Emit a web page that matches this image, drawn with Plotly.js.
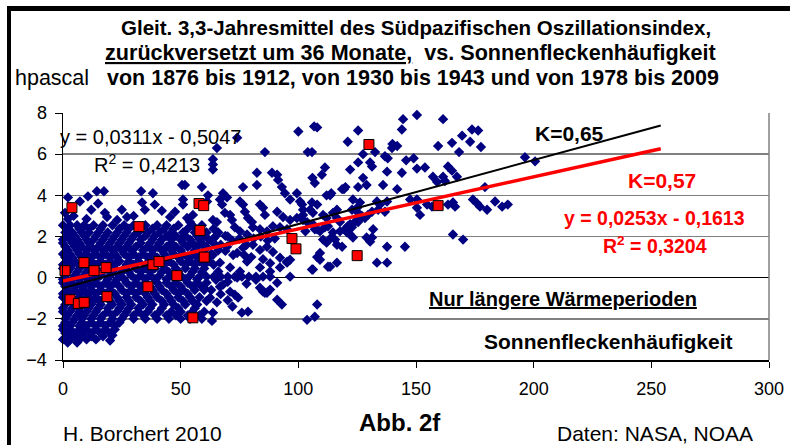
<!DOCTYPE html>
<html><head><meta charset="utf-8">
<script src="https://cdn.plot.ly/plotly-3.0.1.min.js"></script>
<style>html,body{margin:0;padding:0;background:#fff;overflow:hidden;width:790px;height:445px}
#wrap{position:relative;width:790px;height:445px;overflow:hidden}#c{position:absolute;left:0;top:0;width:790px;height:445px}
#ftop{position:absolute;left:7px;top:6px;width:783px;height:5px;background:#000;z-index:10}
#fleft{position:absolute;left:7px;top:6px;width:4px;height:439px;background:#000;z-index:10}</style>
</head><body><div id="wrap"><div id="c"></div><div id="ftop"></div><div id="fleft"></div></div>
<script>
// ---- data ----
// scattered blue points (sunspot number, SOI hPa)
const blueSparseX = [2.1,0.85,2.1,7.2,10.6,14.4,17.4,14.9,17.8,18.7,23,27.2,33.2,38.2,33.6,34.8,39,42,45.5,47.6,50.6,51,51,52.7,54,55.2,59,61.6,61.2,63.7,65.4,4.5,10,12,30,25,
74,65.4,85.8,63.7,63.7,63.7,104,51.8,76.5,82.4,82.4,88.8,91,91.4,93,94.3,96.5,99.4,100.7,68,69.7,66.7,67.6,75.2,76.5,83.7,85,85.8,68.8,71,71.8,77.3,78.6,80.3,91,93.5,96.5,99.4,102,73,75.2,78.2,80.7,83.7,86.7,89.2,92.2,95.2,
100,106.7,108,125.4,144.5,150.4,161.5,144,121,105.8,140,142,139.8,132.6,127.5,136.8,138,145.8,149,159.4,165.3,169.6,173.8,176.4,173,177.6,168.3,130.5,131.3,125.4,111.3,122,137.7,144,150.4,153.8,157.2,159,162.3,163.6,165.3,161.5,167.4,196.3,200.6,127.5,106,107,110,120,119.4,125.4,113.5,114,112,123.2,136,142,129,150.4,151.7,154.7,156.8,163.6,165.7,166.6,165.7,170,174.2,176,177.2,180.2,183.6,186.6,189,179.3,133.4,137.7,134.7,145.3,137.7,137.7,133.4,130.5,131.3,129,123.2,122,120.7,118.6,116.4,113.5,116.4,109.2,106.2,114,114.7,115.6,111.3,112.6,117.7,119.8,121,122,122.8,124,125,127,128.3,129.6,131.3,122.8,125,126.2,118.6,101.6,102,105,106.2,105.8,108,110.5,112,106.2,108,109.2,102,103.7,114.7,116.4,133.9,136.8,147.5,150.4,110.5,112,108,109.2,95.2,96.5,125.4,127,116.4,117.7,125.4,103,107,121,131.8,
62.5,65.4,63.7,63.3,76,78.6,71,73,74.4,83.7,85.8,88,66.7,68,85,86.7,91,96.5,91,93,103.7,107,108,105.8,112.6,58,61,64,67,70,73,76,79,82,85,88,
69.7,72.3,76.5,80.7,83.7,86.7,89.2,92.2,95.2,78.2,83.7,88,92.2,75.2,71,66.7,63.7,21,20,
64,67,70,72,75,78,81,84,87,90,66,69,74,77,80,85,88,65,70,74,78,82,67,70,72,60,63];
const blueSparseY = [3.9,3.15,2.85,3.7,3.95,4.2,4.2,3.6,3.15,2.95,2.8,2.95,4.2,4.1,3.65,3.3,3.55,3.25,2.95,3.2,4.5,3.8,3.55,2.9,2.7,3.05,4.4,4.0,3.7,2.8,2.7,3.0,2.85,3.3,3.0,3.3,
6.8,6.3,6.1,5.75,5.5,5.25,6.1,4.5,4.4,5.1,4.5,5.1,5.0,4.75,4.4,4.1,3.8,4.1,3.7,4.1,3.9,3.8,3.55,3.7,3.55,3.55,3.4,3.05,3.15,3.05,2.8,3.2,2.9,2.7,3.2,2.95,2.8,2.9,3.05,2.45,2.25,2.1,2.45,2.35,2.25,2.5,2.45,2.35,
7.1,7.35,7.3,7.15,7.7,7.9,7.7,7.2,6.6,6.1,6.5,6.4,6.3,6.1,6.0,5.9,5.8,5.7,5.8,6.4,6.55,6.9,7.2,7.15,6.6,6.35,6.1,5.6,5.4,5.6,5.35,5.25,5.15,5.1,5.3,5.35,4.9,4.65,4.7,5.4,5.2,4.9,4.9,5.85,5.65,4.85,4.85,4.6,5.0,4.4,4.3,4.4,4.0,4.1,4.0,3.8,4.5,4.3,4.5,3.4,3.05,3.55,3.45,3.55,3.65,3.45,2.1,1.85,3.8,3.6,3.45,3.3,3.7,3.45,3.55,4.4,3.7,3.7,3.55,1.5,1.5,0.73,0.73,1.75,1.95,1.95,1.95,2.1,2.2,1.5,1.6,0.53,0.73,1.2,0.4,1.95,2.2,1.85,2.45,2.5,2.25,2.35,2.5,2.6,2.45,2.7,2.8,3.0,2.9,3.05,3.2,3.3,3.4,3.65,4.3,3.55,3.3,3.3,3.15,3.65,3.55,3.05,2.9,2.6,2.35,2.25,2.8,2.7,3.15,3.3,3.3,3.2,3.8,3.8,1.85,1.7,1.0,0.87,0.73,0.87,3.15,2.95,2.9,2.7,2.7,2.25,2.35,2.2,2.35,
-0.97,-1.2,-1.7,-2.1,-1.7,-1.65,-0.68,-0.83,-0.97,-0.49,-0.73,-0.58,-0.44,-0.34,-0.68,-0.73,-0.25,0.05,-1.07,-1.3,-2.05,-1.9,-1.3,0.4,0.53,0.05,0.05,0.05,0.05,0.05,0.05,0.05,0.05,0.05,0.05,0.05,
1.5,1.1,1.45,1.6,1.35,1.5,1.25,0.97,0.78,0.78,0.5,0.3,0.5,0.3,0.5,0.73,1.1,-2.8,-3.05,
1.9,1.6,2.0,1.8,1.9,1.6,1.9,2.0,1.8,1.9,0.3,1.3,1.2,1.1,1.0,0.9,0.7,-0.1,-0.2,0.0,-0.3,-0.1,-0.8,-1.1,-1.4,-0.5,-0.6];
// dense cloud, read row by row (SOI level, sunspot numbers on that level)
const denseLevels = [2.55,2.38,2.2,2.03,1.85,1.68,1.5,1.33,1.15,0.98,0.8,0.63,0.45,0.28,0.1,-0.08,-0.25,-0.43,-0.6,-0.78,-0.95,-1.13,-1.3,-1.48,-1.65,-1.83,-2.0,-2.18,-2.35,-2.52,-2.7,-2.85,-3.0,-3.15];
const denseRowsX = [
 [0,3,6,9,13,17,21,26,30,35,40,44,49,55,59],
 [2,7,11,16,24,28,33,38,43,47,53,58,64],
 [1,4,8,11,15,19,23,27,32,36,41,46,51,56,61,66],
 [2,5,9,14,18,22,26,30,35,39,44,48,52,57,60,65,69],
 [0,3,6,10,13,17,21,25,29,33,38,42,46,50,54,58,62],
 [0,4,7,11,16,20,24,28,33,37,41,46,51,55,59,64],
 [1,5,8,12,15,19,23,27,31,36,40,44,48,53,57,61],
 [2,6,10,13,17,21,25,29,34,38,42,46,50,56,60,66],
 [0,3,7,10,14,18,22,26,30,34,38,43,47,51,55,59,63],
 [1,4,8,12,16,20,23,28,32,36,40,44,49,53,57,61],
 [2,5,9,12,16,20,24,28,32,37,41,45,50,54,58,62],
 [0,4,7,11,14,18,22,27,30,35,39,43,47,52,56,60,64],
 [0,3,7,11,14,18,22,26,31,35,39,43,48,52,56,60],
 [2,6,10,13,17,21,25,28,33,37,42,45,49,55,59],
 [1,5,9,12,16,20,24,29,33,37,41,46,50,54],
 [0,4,7,11,14,19,23,26,31,35,39,44,48,52,57],
 [0,3,7,10,14,18,22,27,31,35,40,44,48,53,57,61],
 [1,5,8,12,16,20,24,29,33,37,41,46,50,55,59],
 [2,5,9,12,16,20,25,29,33,38,42,47,51,56,60],
 [0,3,7,10,14,18,22,27,31,35,39,44,49,53],
 [0,3,7,11,14,18,23,27,31,36,40,45,49,54,58],
 [2,5,9,13,16,20,24,28,33,37,42,46,51,55,61],
 [1,5,9,12,16,21,25,29,34,38,43,47,52,57],
 [0,4,7,11,15,19,24,28,32,37,42,49,56],
 [0,3,7,10,14,19,23,27,32,36,41,46,50,55,60],
 [2,6,9,13,17,21,26,30,34,39,44,48,53,58],
 [1,5,8,12,16,21,25,30,35,40,45,50,54,59],
 [1,4,8,12,16,20,24],
 [0,3,7,10,14,18,22],
 [0,3,7,10,14,18,22],
 [1,5,8,12,16,20],
 [2,5,9,12,17],
 [0,3,7,10,14],
 [2,6]
];
// red squares: longer warm periods only
const redX = [0.85,3.8,3,6.5,9,8.9,13.2,18.3,18.7,32.3,36.1,38.2,40.8,48.4,55.2,57.8,59.8,58.2,60,97.3,99,125,130,159.4];
const redY = [0.34,3.4,-1.07,-1.25,-1.2,0.73,0.34,0.49,-0.92,2.48,-0.44,0.63,0.78,0.1,-1.95,3.6,3.5,2.29,1.0,1.9,1.4,1.07,6.47,3.5];
// linear trend lines (Excel)
const trendBlack = {slope: 0.0311, intercept: -0.5047, xEnd: 254};
const trendRed = {slope: 0.0253, intercept: -0.1613, xEnd: 254};
const xTicks = [0,50,100,150,200,250,300];
const yTicks = [-4,-2,0,2,4,6,8];

// ---- build ----
const bx = blueSparseX.slice(), by = blueSparseY.slice();
denseLevels.forEach((lv, i) => denseRowsX[i].forEach(x => { bx.push(x); by.push(lv); }));
const line = t => ({x: [0, t.xEnd], y: [t.intercept, t.slope * t.xEnd + t.intercept]});
const lb = line(trendBlack), lr = line(trendRed);
const F = 'Liberation Sans, Arial, sans-serif';

const traces = [
 {x: bx, y: by, type: 'scatter', mode: 'markers', cliponaxis: false, marker: {symbol: 'diamond', size: 8, color: '#000080'}, hoverinfo: 'skip'},
 {x: lb.x, y: lb.y, type: 'scatter', mode: 'lines', line: {color: '#000000', width: 2}},
 {x: lr.x, y: lr.y, type: 'scatter', mode: 'lines', line: {color: '#FF0000', width: 3.5}},
 {x: redX, y: redY, type: 'scatter', mode: 'markers', cliponaxis: false, marker: {symbol: 'square', size: 10, color: '#FF0000', line: {color: '#000000', width: 1}}}
];
const px = p => (p - 63) / 706, py = p => (360 - p) / 247;
const ann = (text, x, y, size, color, bold, anchor) => ({
  text: bold ? '<b>' + text + '</b>' : text, xref: 'paper', yref: 'paper', x: px(x), y: py(y),
  xanchor: anchor || 'center', yanchor: 'middle', showarrow: false,
  font: {family: F, size: size, color: color || '#000'}
});
const layout = {
  width: 790, height: 445, showlegend: false,
  paper_bgcolor: '#fff', plot_bgcolor: '#fff',
  margin: {l: 63, r: 21, t: 113, b: 85},
  font: {family: F, size: 18, color: '#000'},
  xaxis: {range: [0, 300], tickvals: xTicks, ticks: 'outside', ticklen: 6, tickcolor: '#000', showgrid: false, zeroline: false,
          showline: true, linecolor: '#000', linewidth: 1.5, tickfont: {family: F, size: 18}, ticklabelstandoff: 6},
  yaxis: {range: [-4, 8], tickvals: yTicks, ticks: 'outside', ticklen: 7, tickcolor: '#000', showgrid: true, gridcolor: '#808080', gridwidth: 1.4,
          zeroline: true, zerolinecolor: '#000', zerolinewidth: 1.4, showline: true, linecolor: '#000', linewidth: 1.5,
          tickfont: {family: F, size: 18}, ticklabelstandoff: 4},
  shapes: [
    {type: 'line', xref: 'paper', yref: 'paper', x0: 1, x1: 1, y0: 0, y1: 1, line: {color: '#808080', width: 1.5}}
  ],
  annotations: [
    ann('Gleit. 3,3-Jahresmittel des Südpazifischen Oszillationsindex,', 416, 27, 20.5, '#000', true),
    ann('<u>zurückversetzt um 36 Monate,</u>  vs. Sonnenfleckenhäufigkeit', 410, 52, 21.6, '#000', true),
    ann('von 1876 bis 1912, von 1930 bis 1943 und von 1978 bis 2009', 413, 78, 21.5, '#000', true),
    ann('hpascal', 13, 78, 21.5, '#000', false, 'left'),
    ann('y = 0,0311x - 0,5047', 150, 137, 20, '#000', false),
    ann('R<sup>2</sup> = 0,4213', 147, 163, 20, '#000', false),
    ann('K=0,65', 569, 133, 21, '#000', true),
    ann('K=0,57', 662, 180, 21, '#FF0000', true),
    ann('y = 0,0253x - 0,1613', 654, 218, 19.5, '#FF0000', true),
    ann('R<sup>2</sup> = 0,3204', 655, 245, 19.5, '#FF0000', true),
    ann('<u>Nur längere Wärmeperioden</u>', 563, 299, 20, '#000', true),
    ann('Sonnenfleckenhäufigkeit', 608, 341, 21, '#000', true),
    ann('Abb. 2f', 400, 422, 24, '#000', true),
    ann('H. Borchert 2010', 142, 433, 21, '#000', false),
    ann('Daten: NASA, NOAA', 655, 433, 21, '#000', false)
  ]
};
Plotly.newPlot('c', traces, layout, {staticPlot: true, displayModeBar: false});
</script></body></html>
